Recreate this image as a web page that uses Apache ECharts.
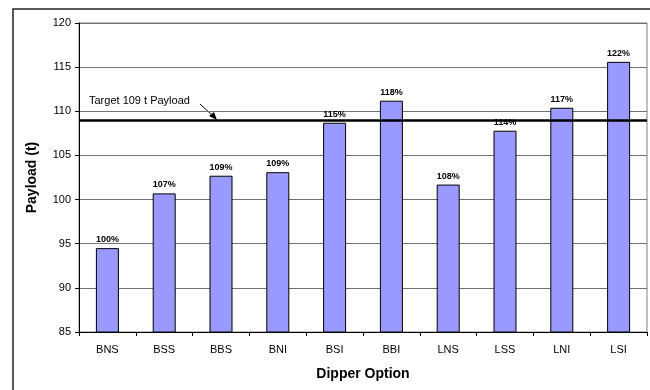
<!DOCTYPE html>
<html>
<head>
<meta charset="utf-8">
<script src="https://cdn.jsdelivr.net/npm/echarts@6/dist/echarts.min.js"></script>
<style>
  html, body { margin: 0; padding: 0; background: #fff; }
  #chart { width: 650px; height: 390px; }
</style>
</head>
<body>
<div id="chart"></div>
<script>
const categories = ['BNS', 'BSS', 'BBS', 'BNI', 'BSI', 'BBI', 'LNS', 'LSS', 'LNI', 'LSI']
const payload = [94.5, 100.7, 102.7, 103.1, 108.7, 111.2, 101.7, 107.8, 110.4, 115.6]
const percentLabels = ['100%', '107%', '109%', '109%', '115%', '118%', '108%', '114%', '117%', '122%']
const targetPayload = 109

const font = 'Liberation Sans, Arial, sans-serif'
const myChart = echarts.init(document.getElementById('chart'))

myChart.setOption({
  animation: false,
  grid: {
    left: 79,
    top: 23,
    right: 3,
    bottom: 58,
    show: true,
    borderColor: '#808080',
    borderWidth: 1
  },
  xAxis: {
    type: 'category',
    data: categories,
    name: 'Dipper Option',
    nameLocation: 'middle',
    nameGap: 35,
    nameTextStyle: { fontFamily: font, fontWeight: 'bold', fontSize: 14, color: '#000' },
    axisLine: { lineStyle: { color: '#000' } },
    axisTick: { show: true, length: 4, lineStyle: { color: '#000' } },
    axisLabel: { fontFamily: font, fontSize: 11, color: '#000', margin: 12 }
  },
  yAxis: {
    type: 'value',
    min: 85,
    max: 120,
    interval: 5,
    name: 'Payload (t)',
    nameLocation: 'middle',
    nameGap: 40,
    nameTextStyle: { fontFamily: font, fontWeight: 'bold', fontSize: 14, color: '#000' },
    axisLine: { show: true, lineStyle: { color: '#000' } },
    axisTick: { show: true, length: 4, lineStyle: { color: '#000' } },
    axisLabel: { fontFamily: font, fontSize: 11, color: '#000', margin: 8 },
    splitLine: { lineStyle: { color: '#707070', width: 1 } }
  },
  series: [{
    type: 'bar',
    data: payload,
    barWidth: 23,
    itemStyle: { color: '#9999ff', borderColor: '#000', borderWidth: 1 },
    label: {
      show: true,
      position: 'top',
      distance: 4,
      fontFamily: font,
      fontSize: 9,
      fontWeight: 'bold',
      color: '#000',
      formatter: function (p) { return percentLabels[p.dataIndex] }
    },
    markLine: {
      silent: true,
      symbol: 'none',
      label: { show: false },
      lineStyle: { color: '#000', width: 2.5, type: 'solid' },
      data: [{ yAxis: targetPayload }]
    }
  }],
  graphic: [
    {
      type: 'rect',
      shape: { x: 13, y: 9, width: 700, height: 450 },
      style: { fill: 'none', stroke: '#222', lineWidth: 1.5 },
      silent: true
    },
    {
      type: 'text',
      x: 89,
      y: 95,
      style: { text: 'Target 109 t Payload', fontFamily: font, fontSize: 11, fill: '#000' }
    },
    {
      type: 'line',
      shape: { x1: 200, y1: 104, x2: 213, y2: 116 },
      style: { stroke: '#000', lineWidth: 1 }
    },
    {
      type: 'polygon',
      shape: { points: [[217, 120], [209, 116], [214, 112]] },
      style: { fill: '#000' }
    }
  ]
})
</script>
</body>
</html>
